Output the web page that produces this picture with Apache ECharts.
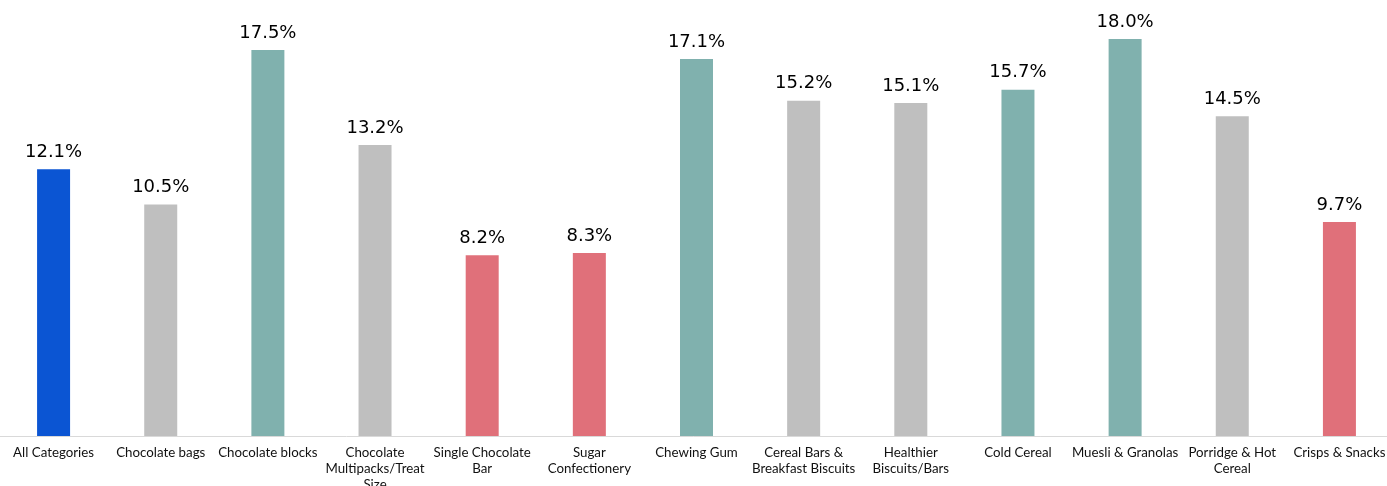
<!DOCTYPE html>
<html>
<head>
<meta charset="utf-8">
<script src="https://cdn.jsdelivr.net/npm/echarts@6/dist/echarts.min.js"></script>
<style>html,body{margin:0;padding:0;background:#fff;}#chart{width:1387px;height:486px;}</style>
</head>
<body>
<div id="chart"></div>
<script>
const categories = [
  "All Categories",
  "Chocolate bags",
  "Chocolate blocks",
  "Chocolate\nMultipacks/Treat\nSize",
  "Single Chocolate\nBar",
  "Sugar\nConfectionery",
  "Chewing Gum",
  "Cereal Bars &\nBreakfast Biscuits",
  "Healthier\nBiscuits/Bars",
  "Cold Cereal",
  "Muesli & Granolas",
  "Porridge & Hot\nCereal",
  "Crisps & Snacks"
];
const values = [12.1, 10.5, 17.5, 13.2, 8.2, 8.3, 17.1, 15.2, 15.1, 15.7, 18.0, 14.5, 9.7];
const groups = ["total", "grey", "teal", "grey", "red", "red", "teal", "grey", "grey", "teal", "teal", "grey", "red"];
const palette = { total: "#0B55D3", grey: "#BFBFBF", teal: "#80B1AE", red: "#E0707A" };

const chart = echarts.init(document.getElementById('chart'), null, { renderer: 'canvas' });
chart.setOption({
  animation: false,
  grid: { left: 0, top: 0, width: 1393, bottom: 50, containLabel: false, outerBoundsMode: 'none' },
  xAxis: {
    type: 'category',
    data: categories,
    axisLine: { lineStyle: { color: '#D9D9D9', width: 1 } },
    axisTick: { show: false },
    axisLabel: {
      interval: 0,
      margin: 9,
      fontFamily: 'Lato',
      fontSize: 13.3,
      lineHeight: 16,
      color: '#111'
    }
  },
  yAxis: {
    type: 'value',
    min: 0,
    max: 19.77,
    show: false,
    splitLine: { show: false }
  },
  series: [{
    type: 'bar',
    barWidth: 33,
    data: values.map((v, i) => ({ value: v, itemStyle: { color: palette[groups[i]] } })),
    label: {
      show: true,
      position: 'top',
      distance: 8,
      fontFamily: 'DejaVu Sans',
      fontSize: 18,
      color: '#000',
      formatter: p => p.value.toFixed(1) + '%'
    }
  }]
});
</script>
</body>
</html>
